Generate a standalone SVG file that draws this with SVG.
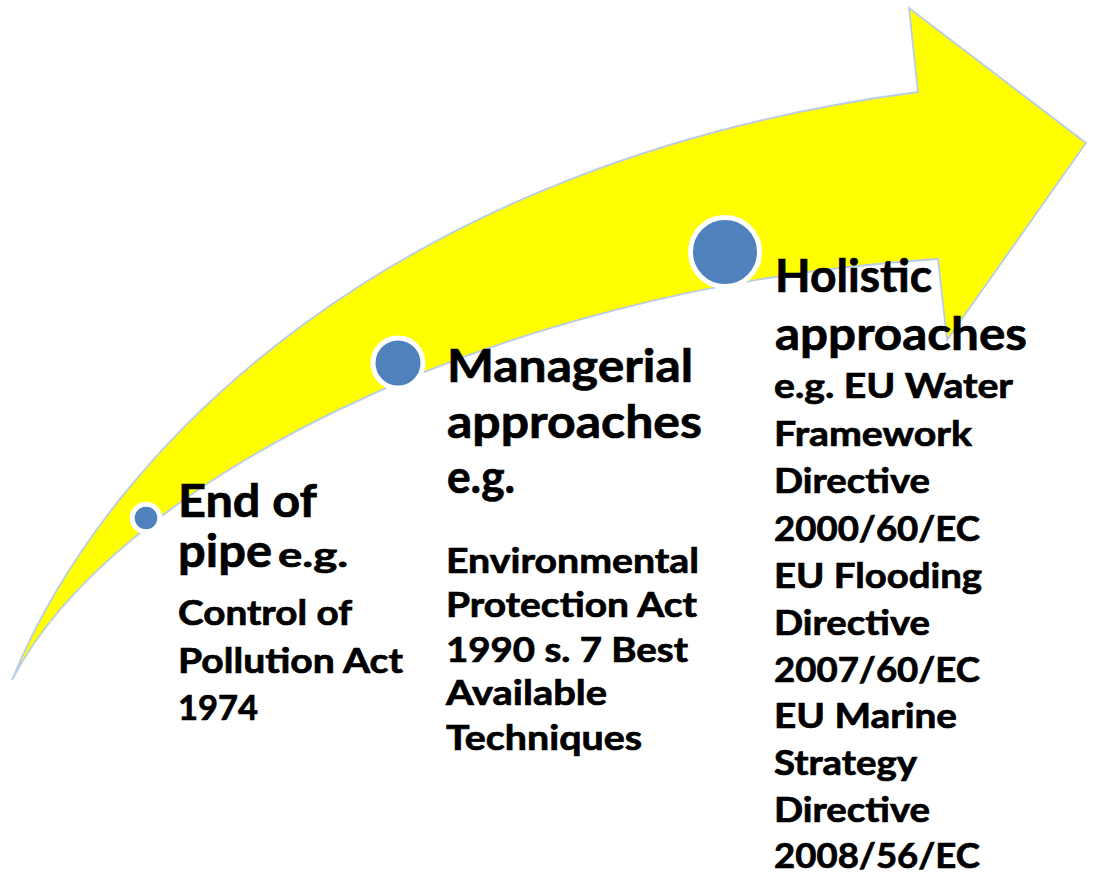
<svg xmlns="http://www.w3.org/2000/svg" width="1096" height="880" viewBox="0 0 1096 880">
<style>
.arrow{fill:#FFFF00;stroke:#B9CDE5;stroke-width:1.8;stroke-linejoin:miter}
.dot{fill:#4F81BD;stroke:#FFFFFF;stroke-width:5}
text{font-family:Lato,"Liberation Sans",sans-serif;font-weight:bold;fill:#000000;stroke:#000000;stroke-width:0.7}
.big{font-size:46px}
.small{font-size:34px}
</style>
<rect x="0" y="0" width="1096" height="880" fill="#FFFFFF"/>
<g id="arrow">
<path class="arrow" d="M12,680 C110,440 400,160 918,92 L909,8 L1086,143 L947,340 L938,259 C480,288 110,490 12,680 Z"/>
</g>
<g id="connectors"/>
<g id="node-end-of-pipe">
<circle class="dot" cx="146" cy="518" r="13.8"/>
<text class="big" x="178" y="517" textLength="139" lengthAdjust="spacingAndGlyphs">End of</text>
<text class="big" x="178" y="567" textLength="94" lengthAdjust="spacingAndGlyphs">pipe</text>
<text class="small" x="278" y="567" textLength="70" lengthAdjust="spacingAndGlyphs">e.g.</text>
<text class="small" x="178" y="625" textLength="174" lengthAdjust="spacingAndGlyphs">Control of</text>
<text class="small" x="178" y="673" textLength="225" lengthAdjust="spacingAndGlyphs">Pollution Act</text>
<text class="small" x="178" y="720" textLength="80" lengthAdjust="spacingAndGlyphs">1974</text>
</g>
<g id="node-managerial">
<circle class="dot" cx="398" cy="363" r="25"/>
<text class="big" x="447" y="382" textLength="246" lengthAdjust="spacingAndGlyphs">Managerial</text>
<text class="big" x="447" y="438" textLength="255" lengthAdjust="spacingAndGlyphs">approaches</text>
<text class="big" x="447" y="493" textLength="68" lengthAdjust="spacingAndGlyphs">e.g.</text>
<text class="small" x="446" y="573" textLength="253" lengthAdjust="spacingAndGlyphs">Environmental</text>
<text class="small" x="446" y="617" textLength="251" lengthAdjust="spacingAndGlyphs">Protection Act</text>
<text class="small" x="446" y="662" textLength="242" lengthAdjust="spacingAndGlyphs">1990 s. 7 Best</text>
<text class="small" x="446" y="705" textLength="161" lengthAdjust="spacingAndGlyphs">Available</text>
<text class="small" x="446" y="750" textLength="196" lengthAdjust="spacingAndGlyphs">Techniques</text>
</g>
<g id="node-holistic">
<circle class="dot" cx="725" cy="252" r="34.5"/>
<text class="big" x="775" y="292" textLength="157" lengthAdjust="spacingAndGlyphs">Holistic</text>
<text class="big" x="775" y="350" textLength="252" lengthAdjust="spacingAndGlyphs">approaches</text>
<text class="small" x="774" y="398" textLength="239" lengthAdjust="spacingAndGlyphs">e.g. EU Water</text>
<text class="small" x="774" y="446" textLength="198" lengthAdjust="spacingAndGlyphs">Framework</text>
<text class="small" x="774" y="493" textLength="156" lengthAdjust="spacingAndGlyphs">Directive</text>
<text class="small" x="774" y="541" textLength="206" lengthAdjust="spacingAndGlyphs">2000/60/EC</text>
<text class="small" x="774" y="588" textLength="208" lengthAdjust="spacingAndGlyphs">EU Flooding</text>
<text class="small" x="774" y="635" textLength="156" lengthAdjust="spacingAndGlyphs">Directive</text>
<text class="small" x="774" y="682" textLength="206" lengthAdjust="spacingAndGlyphs">2007/60/EC</text>
<text class="small" x="774" y="728" textLength="183" lengthAdjust="spacingAndGlyphs">EU Marine</text>
<text class="small" x="774" y="775" textLength="143" lengthAdjust="spacingAndGlyphs">Strategy</text>
<text class="small" x="774" y="822" textLength="156" lengthAdjust="spacingAndGlyphs">Directive</text>
<text class="small" x="774" y="868" textLength="206" lengthAdjust="spacingAndGlyphs">2008/56/EC</text>
</g>
</svg>
